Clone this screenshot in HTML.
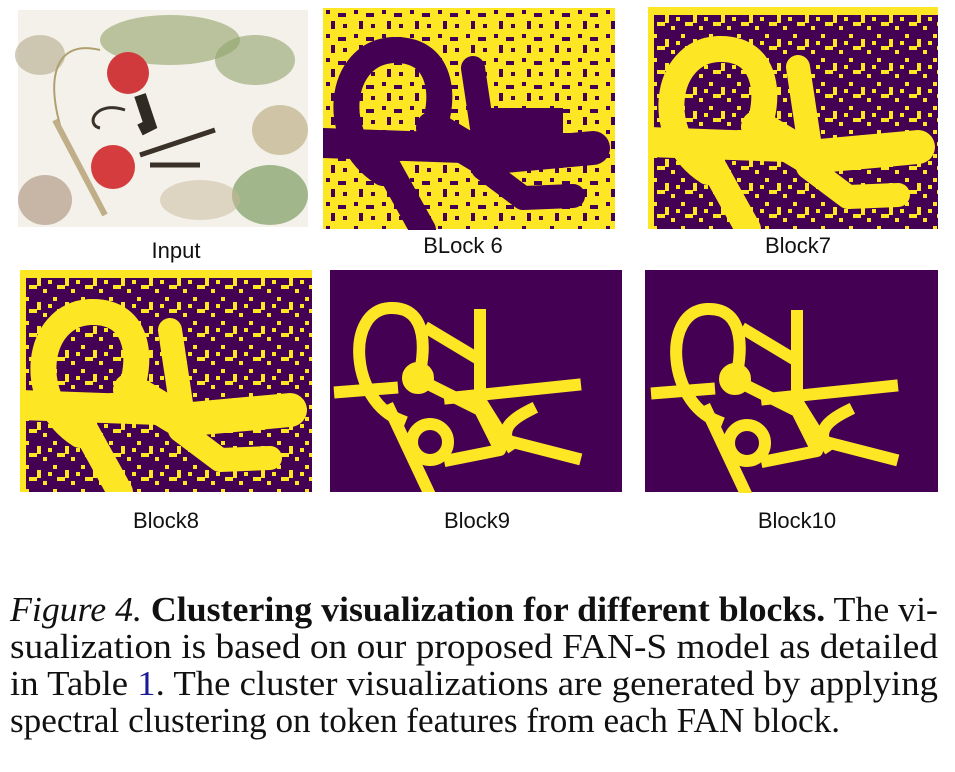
<!DOCTYPE html>
<html><head><meta charset="utf-8"><style>
html,body{margin:0;padding:0;background:#fff;}
svg{display:block;}
.lbl{font-family:"Liberation Sans",sans-serif;font-size:22px;fill:#111;}
.cap{font-family:"Liberation Serif",serif;font-size:35px;fill:#111;}
</style></head><body>
<svg width="955" height="772" viewBox="0 0 955 772" xmlns="http://www.w3.org/2000/svg">
<defs>
<pattern id="pY" width="28" height="24" patternUnits="userSpaceOnUse">
<rect width="28" height="24" fill="#fde725"/>
<rect x="3" y="2" width="4" height="4" fill="#440154"/>
<rect x="15" y="5" width="8" height="4" fill="#440154"/>
<rect x="8" y="13" width="4" height="8" fill="#440154"/>
<rect x="20" y="16" width="4" height="4" fill="#440154"/>
</pattern>
<pattern id="pP" width="28" height="24" patternUnits="userSpaceOnUse">
<rect width="28" height="24" fill="#440154"/>
<rect x="5" y="3" width="4" height="4" fill="#fde725"/>
<rect x="17" y="8" width="4" height="8" fill="#fde725"/>
<rect x="9" y="15" width="8" height="4" fill="#fde725"/>
<rect x="23" y="19" width="4" height="4" fill="#fde725"/>
<rect x="0" y="10" width="4" height="4" fill="#fde725"/>
</pattern>
<clipPath id="c"><rect x="0" y="0" width="292" height="222"/></clipPath>
<g id="thin" fill="none" stroke="#fde725" stroke-width="12" stroke-linejoin="round" stroke-linecap="square">
<path d="M70,150 C20,130 15,40 60,38 C100,36 95,85 88,110"/>
<path d="M150,45 L150,120"/>
<path d="M100,60 L150,90 L150,125"/>
<path d="M120,128 L245,115"/>
<path d="M10,122 L62,118"/>
<path d="M60,140 L100,225"/>
<circle cx="100" cy="172" r="18"/>
<path d="M150,130 L175,170 L245,188"/>
<path d="M80,105 L150,140 L170,180 L120,190"/>
<circle cx="88" cy="108" r="10"/>
<path d="M200,140 C180,150 170,160 180,175"/>
</g>
<g id="thick" fill="none" stroke-linejoin="round" stroke-linecap="round">
<path d="M60,165 C5,130 15,45 70,42 C125,40 120,100 110,120" stroke-width="26"/>
<path d="M0,135 L140,140" stroke-width="30"/>
<path d="M110,120 L160,150 L270,140" stroke-width="34"/>
<path d="M60,150 L100,222" stroke-width="26"/>
<path d="M150,60 L162,140" stroke-width="24"/>
<path d="M160,160 L200,190 L250,188" stroke-width="24"/>
</g>
</defs>

<!-- Input -->
<rect x="18" y="10" width="290" height="217" fill="#f4f1ea"/>
<ellipse cx="170" cy="40" rx="70" ry="25" fill="#9fae7a" opacity=".7"/>
<ellipse cx="255" cy="60" rx="40" ry="25" fill="#8fa36c" opacity=".6"/>
<ellipse cx="40" cy="55" rx="25" ry="20" fill="#b3aa8a" opacity=".6"/>
<ellipse cx="280" cy="130" rx="28" ry="25" fill="#b5a878" opacity=".6"/>
<ellipse cx="270" cy="195" rx="38" ry="30" fill="#7f9c63" opacity=".7"/>
<ellipse cx="45" cy="200" rx="27" ry="25" fill="#a88f78" opacity=".6"/>
<ellipse cx="200" cy="200" rx="40" ry="20" fill="#c8b89a" opacity=".5"/>
<path d="M60,125 C45,70 60,40 100,50" fill="none" stroke="#b0a070" stroke-width="2"/>
<path d="M55,120 L105,215" stroke="#c0ae88" stroke-width="6"/>
<circle cx="128" cy="73" r="21" fill="#d03a3c"/>
<circle cx="113" cy="167" r="22" fill="#d43c3e"/>
<path d="M140,95 L150,125 L140,130" stroke="#2f2a22" stroke-width="12" fill="none"/>
<path d="M140,155 L170,145 L215,130 M150,165 L200,165" stroke="#3a3228" stroke-width="5" fill="none"/>
<path d="M125,110 C95,100 85,125 100,128" stroke="#3a3228" stroke-width="3" fill="none"/>
<text class="lbl" x="176" y="258" text-anchor="middle">Input</text>

<!-- Block6 -->
<g transform="translate(323,8)" clip-path="url(#c)">
<rect width="292" height="221" fill="url(#pY)"/>
<use href="#thick" stroke="#440154"/>
<rect x="160" y="100" width="80" height="60" fill="#440154"/></g>
<text class="lbl" x="463" y="253" text-anchor="middle">BLock 6</text>

<!-- Block7 -->
<g transform="translate(648,7)" clip-path="url(#c)">
<rect width="290" height="223" fill="url(#pP)"/>
<use href="#thick" stroke="#fde725"/>
<rect width="290" height="8" fill="#fde725"/><rect width="6" height="223" fill="#fde725"/></g>
<text class="lbl" x="798" y="253" text-anchor="middle">Block7</text>

<!-- Block8 -->
<g transform="translate(20,270)" clip-path="url(#c)">
<rect width="293" height="222" fill="url(#pP)"/>
<use href="#thick" stroke="#fde725"/>
<rect width="293" height="8" fill="#fde725"/><rect width="6" height="222" fill="#fde725"/></g>
<text class="lbl" x="166" y="528" text-anchor="middle">Block8</text>

<!-- Block9 -->
<g transform="translate(330,270)" clip-path="url(#c)">
<rect width="293" height="222" fill="#440154"/>
<use href="#thin"/></g>
<text class="lbl" x="477" y="528" text-anchor="middle">Block9</text>

<!-- Block10 -->
<rect x="645" y="270" width="293" height="222" fill="#440154"/>
<g transform="translate(647,271)" clip-path="url(#c)"><use href="#thin"/></g>
<text class="lbl" x="797" y="528" text-anchor="middle">Block10</text>

<!-- Caption -->
<text class="cap" x="10" y="621" textLength="928" lengthAdjust="spacingAndGlyphs"><tspan font-style="italic">Figure 4.</tspan> <tspan font-weight="bold">Clustering visualization for different blocks.</tspan> The vi-</text>
<text class="cap" x="10" y="658" textLength="928" lengthAdjust="spacingAndGlyphs">sualization is based on our proposed FAN-S model as detailed</text>
<text class="cap" x="10" y="695" textLength="928" lengthAdjust="spacingAndGlyphs">in Table <tspan fill="#1a1a9a">1</tspan>. The cluster visualizations are generated by applying</text>
<text class="cap" x="10" y="732" textLength="830" lengthAdjust="spacingAndGlyphs">spectral clustering on token features from each FAN block.</text>
</svg>
</body></html>
